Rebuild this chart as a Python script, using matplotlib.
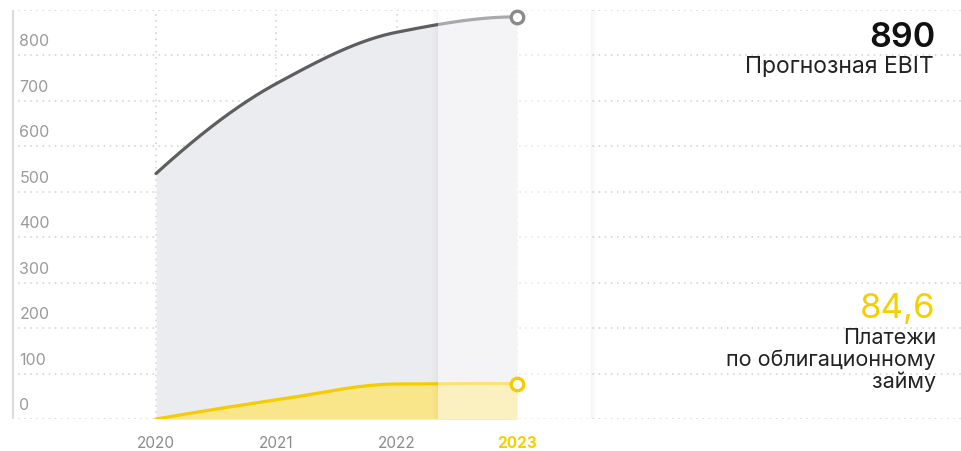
import math
import numpy as np
import matplotlib
matplotlib.use("Agg")
import matplotlib.pyplot as plt
from matplotlib.patches import Rectangle
from matplotlib.transforms import offset_copy

plt.rcParams['font.family'] = ['Inter', 'DejaVu Sans']

# ---- data ----
years = [2020, 2021, 2022, 2023]
year_labels = ["2020", "2021", "2022", "2023"]
ebit = [540, 738, 851, 885]
payments = [0, 42, 77, 78]
yticks = [0, 100, 200, 300, 400, 500, 600, 700, 800]
ebit_label = "890"
ebit_title = "Прогнозная EBIT"
pay_label = "84,6"
pay_title = ["Платежи", "по облигационному", "займу"]

GRAY_LINE = "#5e5e5e"
GRAY_FILL = "#ebecf0"
YEL = "#f5cc00"
YEL_FILL = "#f9e68a"
GRID = "#cfcfcf"
TICK = "#9a9a9a"

W, H = 962, 451
fig = plt.figure(figsize=(W / 100, H / 100), dpi=100)
ax = fig.add_axes([12 / W, (H - 419) / H, 950 / W, 409 / H])
px_per_year = 120.3
x0 = 2020 - (156 - 12) / px_per_year
x1 = x0 + 950 / px_per_year
ax.set_xlim(x0, x1)
ax.set_ylim(0, 900)
ax.axis('off')
ppy = 409 / 900.0  # pixels per unit


def pchip(x, y, n=240):
    x = np.asarray(x, float); y = np.asarray(y, float)
    h = np.diff(x); d = np.diff(y) / h
    m = np.zeros_like(y)
    for k in range(1, len(x) - 1):
        if d[k - 1] * d[k] <= 0:
            m[k] = 0
        else:
            w1 = 2 * h[k] + h[k - 1]; w2 = h[k] + 2 * h[k - 1]
            m[k] = (w1 + w2) / (w1 / d[k - 1] + w2 / d[k])
    m[0] = ((2 * h[0] + h[1]) * d[0] - h[0] * d[1]) / (h[0] + h[1])
    if m[0] * d[0] <= 0: m[0] = 0
    m[-1] = ((2 * h[-1] + h[-2]) * d[-1] - h[-1] * d[-2]) / (h[-1] + h[-2])
    if m[-1] * d[-1] <= 0: m[-1] = 0
    xs = np.linspace(x[0], x[-1], n)
    idx = np.clip(np.searchsorted(x, xs) - 1, 0, len(x) - 2)
    t = (xs - x[idx]) / h[idx]
    h00 = 2 * t**3 - 3 * t**2 + 1; h10 = t**3 - 2 * t**2 + t
    h01 = -2 * t**3 + 3 * t**2; h11 = t**3 - t**2
    ys = h00 * y[idx] + h10 * h[idx] * m[idx] + h01 * y[idx + 1] + h11 * h[idx] * m[idx + 1]
    return xs, ys


# grid
for v in yticks + [900]:
    ax.plot([x0, x1], [v, v], color=GRID, lw=1.1, ls=(0, (1, 3)), zorder=1)
for yr in years:
    ax.plot([yr, yr], [0, 900], color=GRID, lw=1.1, ls=(0, (1, 3)), zorder=1)
ax.plot([x0 + 1 / px_per_year, x0 + 1 / px_per_year], [0, 900], color="#dcdcdc", lw=1.6, zorder=2)

# y tick labels
tr = offset_copy(ax.transData, fig=fig, x=0, y=9, units='dots')
for v in yticks:
    ax.text(x0 + 7.5 / px_per_year, v, str(v), transform=tr, fontsize=11.5,
            color=TICK, ha='left', va='baseline', zorder=3)

# curves
ex, ey = pchip(years, ebit)
px_, py_ = pchip(years, payments)
ax.fill_between(ex, 0, ey, color=GRAY_FILL, lw=0, zorder=2)
ax.fill_between(px_, 0, py_, color=YEL_FILL, lw=0, zorder=3)
ax.plot(ex, ey, color=GRAY_LINE, lw=2.3, solid_capstyle='round', zorder=4)
ax.plot(px_, py_, color=YEL, lw=2.3, solid_capstyle='round', zorder=4)

# highlight panel with soft shadow
pl, pr = 2022 + 0.345, 2023 + 0.615
pb, pt = 0, 900 + 5 / ppy
sig = 6.0
mx, my = 22 / px_per_year, 22 / ppy
gx = np.linspace(pl - mx, pr + mx, 400)
gy = np.linspace(pb - my, pt + my, 600)
erf = np.vectorize(math.erf)
ax_ = 0.5 * (erf((gx - pl) * px_per_year / sig) - erf((gx - pr) * px_per_year / sig))
ay_ = 0.5 * (erf((gy - (pb - 4 / ppy)) * ppy / sig) - erf((gy - pt) * ppy / sig))
A = np.outer(ay_, ax_) * 0.11
inside = np.outer((gy >= pb) & (gy <= pt), (gx >= pl) & (gx <= pr))
A[inside] = 0
img = np.zeros((len(gy), len(gx), 4))
img[..., :3] = 0.25
img[..., 3] = A
ax.imshow(img, extent=(gx[0], gx[-1], gy[0], gy[-1]), origin='lower',
          aspect='auto', interpolation='bilinear', zorder=5)
ax.add_patch(Rectangle((pl, pb), pr - pl, pt - pb, facecolor='white',
                       alpha=0.47, lw=0, zorder=6))
ax.set_xlim(x0, x1)
ax.set_ylim(0, 900)

# end markers
ax.plot([years[-1]], [ebit[-1]], 'o', ms=9, mfc='white', mec="#8a8a8a", mew=2.4, zorder=8, clip_on=False)
ax.plot([years[-1]], [payments[-1]], 'o', ms=9, mfc='white', mec=YEL, mew=2.4, zorder=8, clip_on=False)

# x labels
for yr, lab in zip(years, year_labels):
    t = offset_copy(ax.transData, fig=fig, x=0, y=-29, units='dots')
    if yr == years[-1]:
        ax.text(yr, 0, lab, transform=t, fontsize=11, color="#f5cf00",
                fontweight='bold', ha='center', va='baseline')
    else:
        ax.text(yr, 0, lab, transform=t, fontsize=11, color="#8c8c8c",
                ha='center', va='baseline')

# right annotations
def ftext(x, y, s, **kw):
    fig.text(x / W, 1 - y / H, s, ha='right', va='baseline', **kw)

ftext(936, 47, ebit_label, fontsize=24.5, fontweight='semibold', color='#111111')
ftext(934, 73, ebit_title, fontsize=16.5, color='#222222')
ftext(936, 318, pay_label, fontsize=25, color='#f5cf00')
for i, s in enumerate(pay_title):
    ftext(936, 344 + 22 * i, s, fontsize=15.5, color='#222222')

fig.savefig("out.png", dpi=100)
